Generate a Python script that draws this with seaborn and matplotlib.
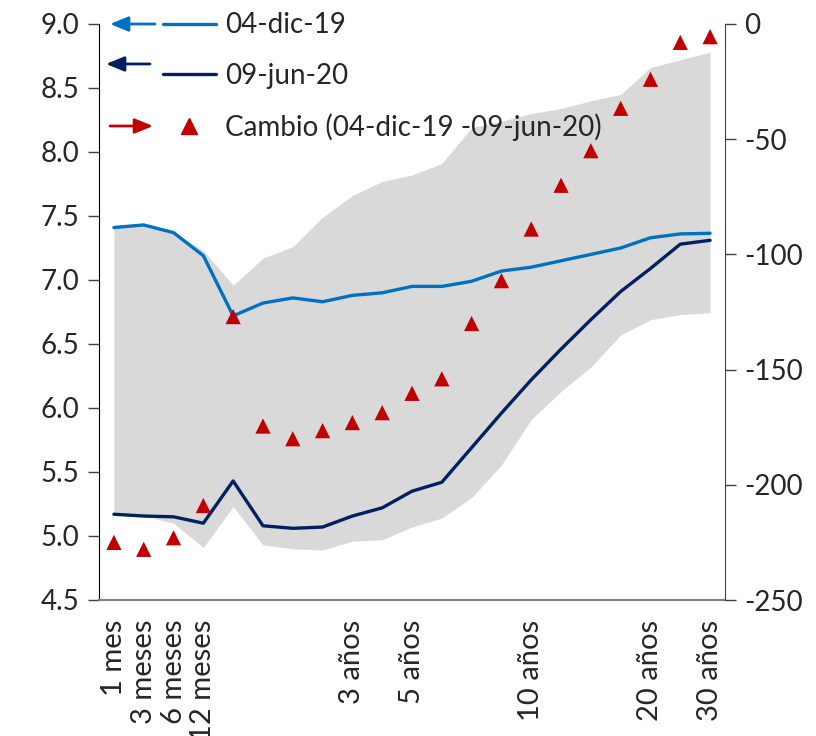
import numpy as np
import pandas as pd
import matplotlib
matplotlib.use("Agg")
import matplotlib.pyplot as plt
from matplotlib.lines import Line2D
import seaborn as sns

# Curve nodes (21 maturities) and the labels shown under the axis
tick_labels = ["1 mes", "3 meses", "6 meses", "12 meses", "", "", "", "",
               "3 años", "", "5 años", "", "", "", "10 años", "", "", "",
               "20 años", "", "30 años"]

# Yield curves (%)
curva_dic19 = [7.41, 7.43, 7.37, 7.19, 6.72, 6.82, 6.86, 6.83, 6.88, 6.90, 6.95,
               6.95, 6.99, 7.07, 7.10, 7.15, 7.20, 7.25, 7.33, 7.36, 7.365]
curva_jun20 = [5.17, 5.156, 5.15, 5.10, 5.43, 5.08, 5.06, 5.07, 5.156, 5.22, 5.35,
               5.42, 5.69, 5.96, 6.22, 6.46, 6.69, 6.91, 7.09, 7.28, 7.31]

# Historical range band (%)
rango_sup = [7.41, 7.43, 7.37, 7.23, 6.96, 7.17, 7.26, 7.49, 7.66, 7.77, 7.82,
             7.91, 8.19, 8.24, 8.30, 8.34, 8.40, 8.45, 8.66, 8.72, 8.78]
rango_inf = [5.17, 5.156, 5.10, 4.91, 5.23, 4.93, 4.90, 4.89, 4.96, 4.97, 5.07,
             5.14, 5.30, 5.555, 5.91, 6.13, 6.32, 6.57, 6.69, 6.73, 6.745]

# Change between dates (basis points, right axis)
cambio_pb = [-225, -228, -223, -209, -127, -174.5, -180, -176.5, -173, -168.7, -160.3,
             -154, -130, -111.4, -89, -70, -55, -36.6, -24, -8, -5.5]

df = pd.DataFrame({
    "pos": np.arange(len(tick_labels)),
    "dic19": curva_dic19,
    "jun20": curva_jun20,
    "sup": rango_sup,
    "inf": rango_inf,
    "cambio": cambio_pb,
})

sns.set_style("white")
plt.rcParams["font.family"] = ["Lato", "DejaVu Sans"]
plt.rcParams["axes.unicode_minus"] = False

C_BLUE = "#0070C0"
C_NAVY = "#002060"
C_RED = "#C00000"
C_BAND = "#D9D9D9"
FS = 20

fig = plt.figure(figsize=(8.16, 7.36), dpi=100)
ax = fig.add_axes([99 / 816, 1 - 600 / 736, 626 / 816, 576 / 736])
ax2 = ax.twinx()

ax.fill_between(df["pos"], df["inf"], df["sup"], color=C_BAND, lw=0, zorder=1)
sns.lineplot(data=df, x="pos", y="dic19", ax=ax, color=C_BLUE, lw=2.4, zorder=3)
sns.lineplot(data=df, x="pos", y="jun20", ax=ax, color=C_NAVY, lw=2.4, zorder=3)
sns.scatterplot(data=df, x="pos", y="cambio", ax=ax2, marker="^", s=120,
                color=C_RED, edgecolor="none", linewidth=0, zorder=4)

ax.set_xlim(-0.5, 20.5)
ax.set_ylim(4.5, 9.0)
ax2.set_ylim(-250, 0)

ax.set_yticks(np.arange(4.5, 9.01, 0.5))
ax.set_yticklabels([f"{v:.1f}" for v in np.arange(4.5, 9.01, 0.5)], fontsize=FS)
ax2.set_yticks(np.arange(-250, 1, 50))
ax2.set_yticklabels([f"{v:d}" for v in np.arange(-250, 1, 50)], fontsize=FS)

ax.set_xticks(df["pos"])
ax.set_xticklabels(tick_labels, rotation=90, fontsize=FS + 1, va="top", ha="center")
ax.set_xticks(np.arange(-0.5, 21, 1), minor=True)
ax.tick_params(axis="x", which="major", length=0, pad=14)
ax.tick_params(axis="x", which="minor", length=8, width=1, color="#808080", direction="out")
ax.tick_params(axis="y", length=8, width=1, color="#404040", direction="out", pad=6, left=True)
ax2.tick_params(axis="y", length=8, width=1, color="#404040", direction="out", pad=6, right=True)

for a in (ax, ax2):
    a.set_xlabel("")
    a.set_ylabel("")
    a.spines["top"].set_visible(False)
    a.grid(False)
ax.spines["left"].set_color("#000000")
ax.spines["bottom"].set_color("#808080")
ax.spines["bottom"].set_linewidth(1.5)
ax.spines["right"].set_visible(False)
ax2.spines["left"].set_visible(False)
ax2.spines["bottom"].set_visible(False)
ax2.spines["right"].set_color("#404040")

# Legend with axis-pointer arrows
handles = [
    Line2D([], [], color=C_BLUE, lw=2.4),
    Line2D([], [], color=C_NAVY, lw=2.4),
    Line2D([], [], color=C_RED, lw=0, marker="^", markersize=11),
]
labels = ["04-dic-19", "09-jun-20", "Cambio (04-dic-19 -09-jun-20)"]
leg = ax2.legend(handles, labels, loc="upper left", bbox_to_anchor=(0.102, 1.02),
                 frameon=False, fontsize=FS, handlelength=1.9, handletextpad=0.35,
                 labelspacing=0.88, borderpad=0, borderaxespad=0)
leg.set_zorder(10)

arrow_specs = [
    (C_BLUE, (0.0895, 1.0), (0.0176, 1.0)),
    (C_NAVY, (0.0815, 0.9306), (0.0112, 0.9306)),
    (C_RED, (0.0176, 0.8229), (0.0863, 0.8229)),
]
for col, tail, head in arrow_specs:
    ax2.annotate("", xy=head, xytext=tail, xycoords="axes fraction",
                 textcoords="axes fraction",
                 arrowprops=dict(arrowstyle="-|>,head_length=1.1,head_width=0.45",
                                 color=col, lw=2.0, shrinkA=0, shrinkB=0),
                 annotation_clip=False, zorder=10)

fig.savefig("out.png", dpi=100)
